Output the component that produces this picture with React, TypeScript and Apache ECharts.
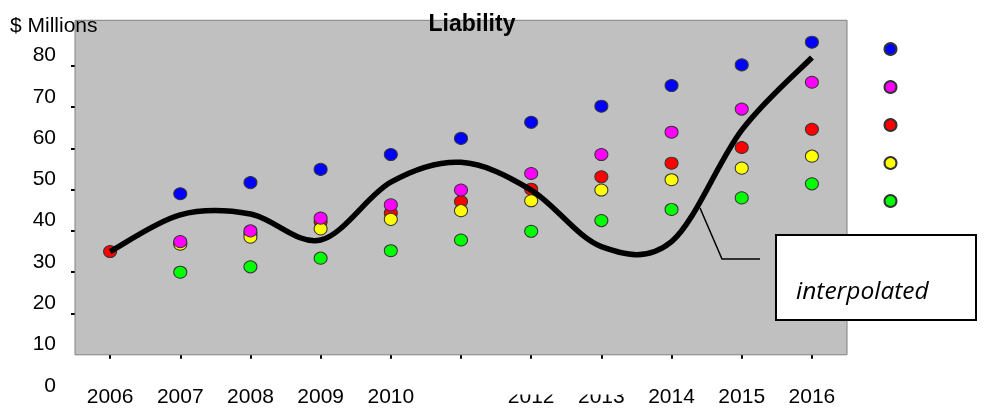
import React, { useEffect, useRef } from "react";
import * as echarts from "echarts";

const years = ["2006", "2007", "2008", "2009", "2010", "2011", "2012", "2013", "2014", "2015", "2016"];
const hiddenYearLabels = ["2011"];
const seriesNames = ["High", "Medium-High", "Medium", "Medium-Low", "Low"];
const seriesColors = ["#0000ff", "#ff00ff", "#ff0000", "#ffff00", "#00ff00"];
const highValues = [null, 49, 51.7, 54.9, 58.5, 62.4, 66.3, 70.2, 75.2, 80.2, 85.7];
const mediumHighValues = [null, 37.4, 40, 43.1, 46.3, 49.9, 53.9, 58.5, 63.9, 69.5, 76];
const mediumValues = [35, 37, 39.3, 42.2, 44.3, 47.1, 50.1, 53.1, 56.4, 60.2, 64.6];
const mediumLowValues = [null, 36.8, 38.5, 40.5, 42.8, 44.9, 47.3, 49.9, 52.4, 55.2, 58.1];
const lowValues = [null, 30, 31.3, 33.4, 35.2, 37.8, 39.9, 42.5, 45.2, 48, 51.4];
const interpolatedValues = [35, 43.9, 44.1, 37.8, 51.8, 56.6, 49.9, 36.2, 37.4, 64.4, 82];
const yTickValues = [20, 30, 40, 50, 60, 70, 80];
const yLabelValues = [0, 10, 20, 30, 40, 50, 60, 70, 80];
const plotBand = [10, 91];

export default function App() {
  const ref = useRef<HTMLDivElement>(null);
  useEffect(() => {
    if (!ref.current) return;
    const chart = echarts.init(ref.current, null, { renderer: "svg" });
    const font = "Liberation Sans, Arial, sans-serif";
    const valuesByName: Record<string, (number | null)[]> = {
      [seriesNames[0]]: highValues,
      [seriesNames[1]]: mediumHighValues,
      [seriesNames[2]]: mediumValues,
      [seriesNames[3]]: mediumLowValues,
      [seriesNames[4]]: lowValues,
    };
    // drawing order: red below yellow below magenta
    const drawOrder = [0, 2, 3, 1, 4];
    const scatterSeries = drawOrder.map((i) => ({
      name: seriesNames[i],
      type: "scatter",
      z: 3,
      data: valuesByName[seriesNames[i]],
      symbol: "circle",
      symbolSize: [13, 12],
      itemStyle: { color: seriesColors[i], borderColor: "#333333", borderWidth: 1, opacity: 1 },
    }));

    // Smoothed line (cardinal / Catmull-Rom bezier through the data values, like a spreadsheet "smoothed line")
    const renderSpline = (params: any, api: any) => {
      if (params.dataIndex !== 0) return { type: "group", children: [] };
      const pts = interpolatedValues.map((v, i) => api.coord([i, v]));
      let d = `M${pts[0][0]},${pts[0][1]}`;
      for (let i = 0; i < pts.length - 1; i++) {
        const p0 = pts[Math.max(0, i - 1)];
        const p1 = pts[i];
        const p2 = pts[i + 1];
        const p3 = pts[Math.min(pts.length - 1, i + 2)];
        const c1x = p1[0] + (p2[0] - p0[0]) / 6;
        const c1y = p1[1] + (p2[1] - p0[1]) / 6;
        const c2x = p2[0] - (p3[0] - p1[0]) / 6;
        const c2y = p2[1] - (p3[1] - p1[1]) / 6;
        d += ` C${c1x},${c1y} ${c2x},${c2y} ${p2[0]},${p2[1]}`;
      }
      return {
        type: "path",
        shape: { pathData: d },
        style: { stroke: "#000", lineWidth: 5.5, fill: "none", lineCap: "butt", lineJoin: "round" },
      };
    };

    chart.setOption({
      animation: false,
      textStyle: { fontFamily: font },
      title: [
        {
          text: "Liability",
          left: 472,
          top: 11,
          padding: 0,
          textAlign: "center",
          textStyle: { fontSize: 23, fontWeight: "bold", color: "#000", fontFamily: font },
        },
        {
          text: "$ Millions",
          left: 10,
          top: 14,
          padding: 0,
          textStyle: { fontSize: 21, fontWeight: "normal", color: "#000", fontFamily: font },
        },
      ],
      grid: { left: 75, right: 150, top: 20.3, bottom: 11.9, containLabel: false },
      legend: {
        orient: "vertical",
        left: 883.5,
        top: 42,
        padding: 0,
        itemWidth: 13,
        itemHeight: 12,
        itemGap: 24,
        icon: "circle",
        data: seriesNames,
        formatter: () => "",
        textStyle: { fontSize: 10, lineHeight: 12 },
        selectedMode: false,
      },
      xAxis: {
        type: "category",
        data: years,
        boundaryGap: true,
        offset: -41.3,
        axisLine: { show: false },
        axisTick: { show: true, alignWithLabel: true, length: 4, lineStyle: { color: "#000", width: 2 } },
        axisLabel: {
          fontSize: 21,
          color: "#000",
          margin: 30,
          interval: 0,
          formatter: (v: string) => (hiddenYearLabels.includes(v) ? "" : v),
        },
        splitLine: { show: false },
      },
      yAxis: {
        type: "value",
        min: 0,
        max: 91,
        interval: 10,
        axisLine: { show: false },
        splitLine: { show: false },
        axisTick: { show: true, customValues: yTickValues, length: 4, lineStyle: { color: "#000", width: 2 } },
        axisLabel: {
          customValues: yLabelValues,
          fontSize: 21,
          color: "#000",
          margin: 19,
          verticalAlign: "bottom",
          lineHeight: 24,
        },
      },
      series: [
        {
          name: "plotArea",
          type: "line",
          z: 1,
          data: [],
          silent: true,
          markArea: {
            silent: true,
            itemStyle: { color: "#c0c0c0", borderColor: "#808080", borderWidth: 1 },
            data: [[{ yAxis: plotBand[0] }, { yAxis: plotBand[1] }]],
          },
        },
        ...scatterSeries,
        {
          name: "interpolated",
          type: "custom",
          z: 4,
          silent: true,
          data: interpolatedValues.map((v, i) => [i, v]),
          encode: { x: 0, y: 1 },
          renderItem: renderSpline,
        },
      ],
      graphic: [
        {
          type: "rect",
          z: 10,
          shape: { x: 490, y: 380, width: 150, height: 14.5 },
          style: { fill: "#fff", stroke: null },
          silent: true,
        },
        {
          type: "polyline",
          z: 10,
          shape: { points: [[700, 208], [722, 259], [760, 259]] },
          style: { stroke: "#000", lineWidth: 1.5, fill: null },
        },
        {
          type: "rect",
          z: 10,
          shape: { x: 776, y: 235, width: 200, height: 85 },
          style: { fill: "#fff", stroke: "#000", lineWidth: 2 },
        },
        {
          type: "text",
          z: 11,
          x: 796,
          y: 289,
          style: {
            text: "interpolated",
            fontFamily: "Open Sans, sans-serif",
            fontStyle: "italic",
            fontSize: 24.5,
            fill: "#000",
            verticalAlign: "middle",
          },
        },
      ],
    });
    return () => chart.dispose();
  }, []);
  return <div ref={ref} style={{ position: "fixed", left: 0, top: 0, width: 997, height: 408 }} />;
}
